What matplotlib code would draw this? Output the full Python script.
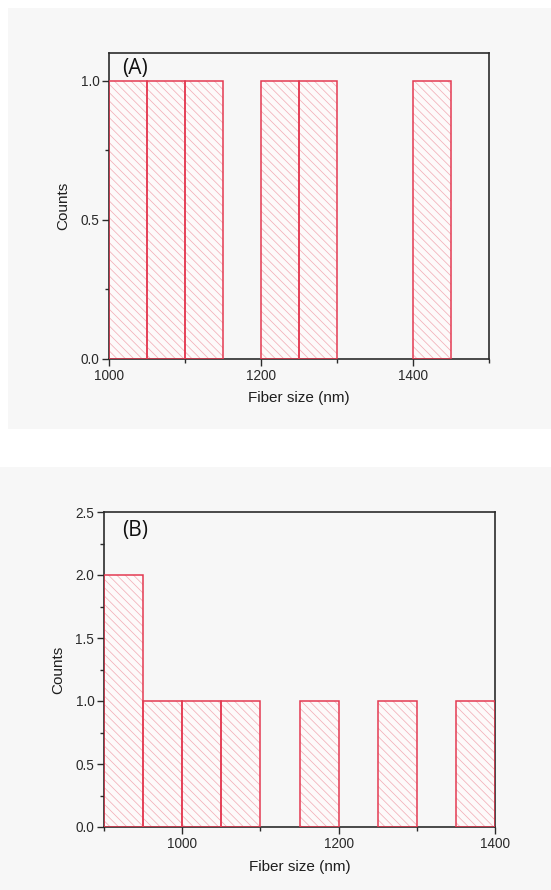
import matplotlib
matplotlib.use("Agg")
import matplotlib.pyplot as plt
from matplotlib.patches import Rectangle
from matplotlib.ticker import MultipleLocator

# Histogram bins (nm) and counts for the two fiber samples
bin_width = 50
bins_a = [1000, 1050, 1100, 1150, 1200, 1250, 1300, 1350, 1400, 1450]
counts_a = [1, 1, 1, 0, 1, 1, 0, 0, 1, 0]
bins_b = [900, 950, 1000, 1050, 1100, 1150, 1200, 1250, 1300, 1350]
counts_b = [2, 1, 1, 1, 0, 1, 0, 1, 0, 1]

xlabel = "Fiber size (nm)"
ylabel = "Counts"
panel_tags = ["(A)", "(B)"]

plt.rcParams["font.family"] = ["Liberation Sans", "DejaVu Sans"]
plt.rcParams["hatch.linewidth"] = 0.55

EDGE = "#e43a52"
HATCH = "#f2b0b8"
SPINE = "#2b2b2b"
PANEL_BG = "#f7f7f7"

fig = plt.figure(figsize=(5.51, 8.9), dpi=100)
W, H = 551, 890

# light panel backgrounds
for (x0, y0, x1, y1) in [(8, 8, 551, 429), (0, 467, 551, 890)]:
    fig.patches.append(Rectangle((x0 / W, 1 - y1 / H), (x1 - x0) / W, (y1 - y0) / H,
                                 transform=fig.transFigure, facecolor=PANEL_BG,
                                 edgecolor="none", zorder=-10))


def px_axes(l, r, t, b):
    return fig.add_axes([l / W, 1 - b / H, (r - l) / W, (b - t) / H])


def draw_hist(ax, bins, counts):
    xs = [x for x, c in zip(bins, counts) if c > 0]
    hs = [c for c in counts if c > 0]
    ax.bar(xs, hs, width=bin_width, align="edge", facecolor="#fdfafa",
           edgecolor=HATCH, linewidth=0, hatch="\\\\\\\\", zorder=2)
    ax.bar(xs, hs, width=bin_width, align="edge", facecolor="none",
           edgecolor=EDGE, linewidth=1.1, zorder=3)


def style(ax, xlim, ylim, xmaj, ymaj, ymin, xpad, ypad):
    ax.set_facecolor("none")
    ax.set_xlim(*xlim)
    ax.set_ylim(*ylim)
    ax.xaxis.set_major_locator(MultipleLocator(xmaj))
    ax.xaxis.set_minor_locator(MultipleLocator(xmaj / 2))
    ax.yaxis.set_major_locator(MultipleLocator(ymaj))
    ax.yaxis.set_minor_locator(MultipleLocator(ymin))
    ax.yaxis.set_major_formatter(plt.FuncFormatter(lambda v, p: f"{v:.1f}"))
    for s in ax.spines.values():
        s.set_color(SPINE)
        s.set_linewidth(1.2)
    ax.tick_params(which="major", direction="out", length=5, width=1.0,
                   color=SPINE, labelsize=9.8, labelcolor="#2a2a2a", pad=2)
    ax.tick_params(which="minor", direction="out", length=3, width=1.0, color=SPINE)
    ax.set_xlabel(xlabel, fontsize=11, color="#1e1e1e", labelpad=xpad)
    ax.set_ylabel(ylabel, fontsize=11, color="#1e1e1e", labelpad=ypad)


ax_a = px_axes(109, 489, 53, 359)
draw_hist(ax_a, bins_a, counts_a)
style(ax_a, (1000, 1500), (0, 1.1), 200, 0.5, 0.25, 6, 7)
ax_a.text(0.035, 0.985, panel_tags[0], transform=ax_a.transAxes, ha="left", va="top",
          fontsize=15, family=["Open Sans", "DejaVu Sans"], color="#111111", zorder=5)

ax_b = px_axes(104, 495, 512, 827)
draw_hist(ax_b, bins_b, counts_b)
style(ax_b, (900, 1400), (0, 2.5), 200, 0.5, 0.25, 7, 7)
ax_b.text(0.047, 0.975, panel_tags[1], transform=ax_b.transAxes, ha="left", va="top",
          fontsize=15, family=["Open Sans", "DejaVu Sans"], color="#111111", zorder=5)

fig.savefig("out.png", dpi=100)
